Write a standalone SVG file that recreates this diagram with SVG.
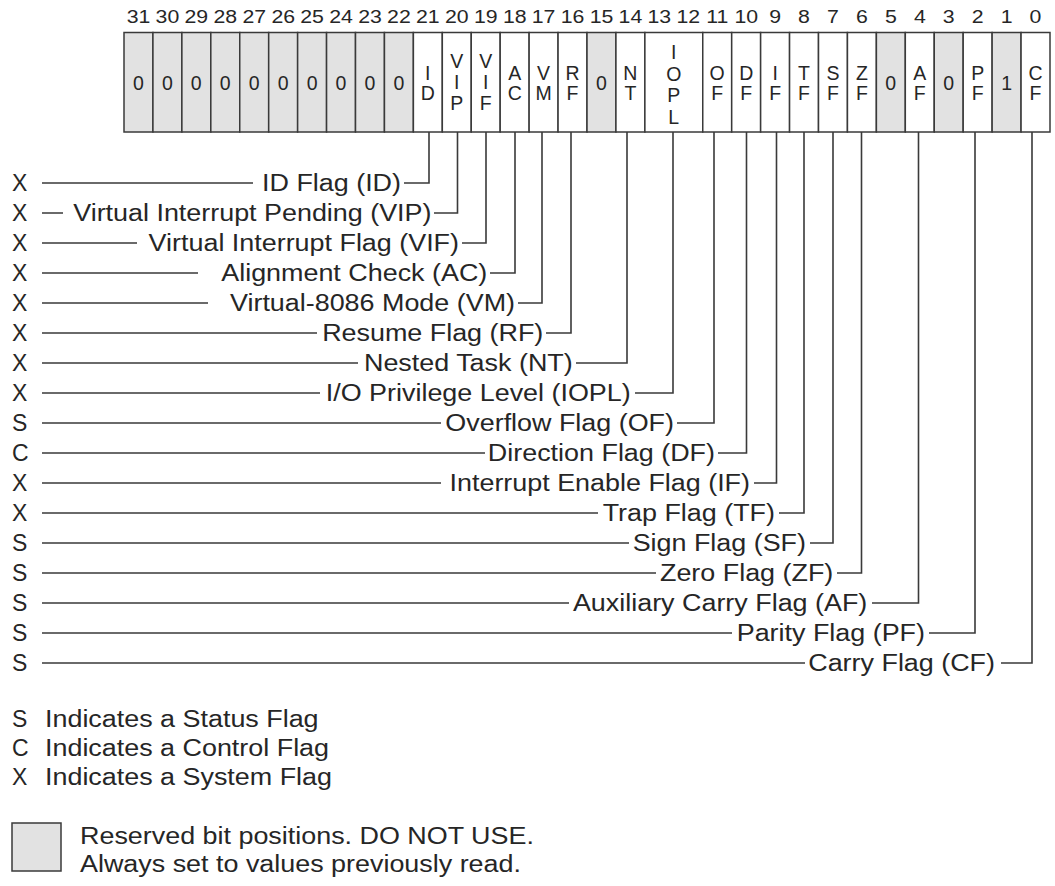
<svg xmlns="http://www.w3.org/2000/svg" width="1055" height="886" viewBox="0 0 1055 886">
<style>
text{font-family:"Liberation Sans",Arial,sans-serif;fill:#262626}
.num{font-size:19px;text-anchor:middle}
.cl{font-size:19.5px;text-anchor:middle}
.lb{font-size:23px;text-anchor:end}
.lt{font-size:23px;text-anchor:start}
.res{fill:#e2e2e2;stroke:#3a3a3a;stroke-width:1.5}
.flg{fill:#ffffff;stroke:#3a3a3a;stroke-width:1.5}
.cn{fill:none;stroke:#3a3a3a;stroke-width:1.6}
</style>
<rect width="1055" height="886" fill="#ffffff"/>
<g id="bitnumbers">
<text class="num" transform="translate(138.5,23) scale(1.12,1)">31</text><text class="num" transform="translate(167.4,23) scale(1.12,1)">30</text><text class="num" transform="translate(196.3,23) scale(1.12,1)">29</text><text class="num" transform="translate(225.3,23) scale(1.12,1)">28</text><text class="num" transform="translate(254.2,23) scale(1.12,1)">27</text><text class="num" transform="translate(283.2,23) scale(1.12,1)">26</text><text class="num" transform="translate(312.1,23) scale(1.12,1)">25</text><text class="num" transform="translate(341,23) scale(1.12,1)">24</text><text class="num" transform="translate(370,23) scale(1.12,1)">23</text><text class="num" transform="translate(398.9,23) scale(1.12,1)">22</text><text class="num" transform="translate(427.8,23) scale(1.12,1)">21</text><text class="num" transform="translate(456.8,23) scale(1.12,1)">20</text><text class="num" transform="translate(485.7,23) scale(1.12,1)">19</text><text class="num" transform="translate(514.7,23) scale(1.12,1)">18</text><text class="num" transform="translate(543.6,23) scale(1.12,1)">17</text><text class="num" transform="translate(572.5,23) scale(1.12,1)">16</text><text class="num" transform="translate(601.5,23) scale(1.12,1)">15</text><text class="num" transform="translate(630.4,23) scale(1.12,1)">14</text><text class="num" transform="translate(659.3,23) scale(1.12,1)">13</text><text class="num" transform="translate(688.3,23) scale(1.12,1)">12</text><text class="num" transform="translate(717.2,23) scale(1.12,1)">11</text><text class="num" transform="translate(746.2,23) scale(1.12,1)">10</text><text class="num" transform="translate(775.1,23) scale(1.12,1)">9</text><text class="num" transform="translate(804,23) scale(1.12,1)">8</text><text class="num" transform="translate(833,23) scale(1.12,1)">7</text><text class="num" transform="translate(861.9,23) scale(1.12,1)">6</text><text class="num" transform="translate(890.8,23) scale(1.12,1)">5</text><text class="num" transform="translate(919.8,23) scale(1.12,1)">4</text><text class="num" transform="translate(948.7,23) scale(1.12,1)">3</text><text class="num" transform="translate(977.7,23) scale(1.12,1)">2</text><text class="num" transform="translate(1006.6,23) scale(1.12,1)">1</text><text class="num" transform="translate(1035.5,23) scale(1.12,1)">0</text>
</g>
<g id="register">
<g id="bit31"><rect class="res" x="124" y="32.5" width="28.94" height="99.5"/><text class="cl" x="138.5" y="90">0</text></g>
<g id="bit30"><rect class="res" x="152.94" y="32.5" width="28.94" height="99.5"/><text class="cl" x="167.4" y="90">0</text></g>
<g id="bit29"><rect class="res" x="181.88" y="32.5" width="28.94" height="99.5"/><text class="cl" x="196.3" y="90">0</text></g>
<g id="bit28"><rect class="res" x="210.81" y="32.5" width="28.94" height="99.5"/><text class="cl" x="225.3" y="90">0</text></g>
<g id="bit27"><rect class="res" x="239.75" y="32.5" width="28.94" height="99.5"/><text class="cl" x="254.2" y="90">0</text></g>
<g id="bit26"><rect class="res" x="268.69" y="32.5" width="28.94" height="99.5"/><text class="cl" x="283.2" y="90">0</text></g>
<g id="bit25"><rect class="res" x="297.63" y="32.5" width="28.94" height="99.5"/><text class="cl" x="312.1" y="90">0</text></g>
<g id="bit24"><rect class="res" x="326.56" y="32.5" width="28.94" height="99.5"/><text class="cl" x="341" y="90">0</text></g>
<g id="bit23"><rect class="res" x="355.5" y="32.5" width="28.94" height="99.5"/><text class="cl" x="370" y="90">0</text></g>
<g id="bit22"><rect class="res" x="384.44" y="32.5" width="28.94" height="99.5"/><text class="cl" x="398.9" y="90">0</text></g>
<g id="bit21-ID"><rect class="flg" x="413.38" y="32.5" width="28.94" height="99.5"/><text class="cl" x="427.8" y="79.5">I</text><text class="cl" x="427.8" y="99.5">D</text></g>
<g id="bit20-VIP"><rect class="flg" x="442.31" y="32.5" width="28.94" height="99.5"/><text class="cl" x="456.8" y="68">V</text><text class="cl" x="456.8" y="89">I</text><text class="cl" x="456.8" y="110">P</text></g>
<g id="bit19-VIF"><rect class="flg" x="471.25" y="32.5" width="28.94" height="99.5"/><text class="cl" x="485.7" y="68">V</text><text class="cl" x="485.7" y="89">I</text><text class="cl" x="485.7" y="110">F</text></g>
<g id="bit18-AC"><rect class="flg" x="500.19" y="32.5" width="28.94" height="99.5"/><text class="cl" x="514.7" y="79.5">A</text><text class="cl" x="514.7" y="99.5">C</text></g>
<g id="bit17-VM"><rect class="flg" x="529.13" y="32.5" width="28.94" height="99.5"/><text class="cl" x="543.6" y="79.5">V</text><text class="cl" x="543.6" y="99.5">M</text></g>
<g id="bit16-RF"><rect class="flg" x="558.06" y="32.5" width="28.94" height="99.5"/><text class="cl" x="572.5" y="79.5">R</text><text class="cl" x="572.5" y="99.5">F</text></g>
<g id="bit15"><rect class="res" x="587" y="32.5" width="28.94" height="99.5"/><text class="cl" x="601.5" y="90">0</text></g>
<g id="bit14-NT"><rect class="flg" x="615.94" y="32.5" width="28.94" height="99.5"/><text class="cl" x="630.4" y="79.5">N</text><text class="cl" x="630.4" y="99.5">T</text></g>
<g id="bit13-12-IOPL"><rect class="flg" x="644.88" y="32.5" width="57.87" height="99.5"/><text class="cl" x="673.8" y="58.5">I</text><text class="cl" x="673.8" y="80.5">O</text><text class="cl" x="673.8" y="102">P</text><text class="cl" x="673.8" y="123.5">L</text></g>
<g id="bit11-OF"><rect class="flg" x="702.75" y="32.5" width="28.94" height="99.5"/><text class="cl" x="717.2" y="79.5">O</text><text class="cl" x="717.2" y="99.5">F</text></g>
<g id="bit10-DF"><rect class="flg" x="731.69" y="32.5" width="28.94" height="99.5"/><text class="cl" x="746.2" y="79.5">D</text><text class="cl" x="746.2" y="99.5">F</text></g>
<g id="bit9-IF"><rect class="flg" x="760.63" y="32.5" width="28.94" height="99.5"/><text class="cl" x="775.1" y="79.5">I</text><text class="cl" x="775.1" y="99.5">F</text></g>
<g id="bit8-TF"><rect class="flg" x="789.56" y="32.5" width="28.94" height="99.5"/><text class="cl" x="804" y="79.5">T</text><text class="cl" x="804" y="99.5">F</text></g>
<g id="bit7-SF"><rect class="flg" x="818.5" y="32.5" width="28.94" height="99.5"/><text class="cl" x="833" y="79.5">S</text><text class="cl" x="833" y="99.5">F</text></g>
<g id="bit6-ZF"><rect class="flg" x="847.44" y="32.5" width="28.94" height="99.5"/><text class="cl" x="861.9" y="79.5">Z</text><text class="cl" x="861.9" y="99.5">F</text></g>
<g id="bit5"><rect class="res" x="876.38" y="32.5" width="28.94" height="99.5"/><text class="cl" x="890.8" y="90">0</text></g>
<g id="bit4-AF"><rect class="flg" x="905.31" y="32.5" width="28.94" height="99.5"/><text class="cl" x="919.8" y="79.5">A</text><text class="cl" x="919.8" y="99.5">F</text></g>
<g id="bit3"><rect class="res" x="934.25" y="32.5" width="28.94" height="99.5"/><text class="cl" x="948.7" y="90">0</text></g>
<g id="bit2-PF"><rect class="flg" x="963.19" y="32.5" width="28.94" height="99.5"/><text class="cl" x="977.7" y="79.5">P</text><text class="cl" x="977.7" y="99.5">F</text></g>
<g id="bit1"><rect class="res" x="992.13" y="32.5" width="28.94" height="99.5"/><text class="cl" x="1006.6" y="90">1</text></g>
<g id="bit0-CF"><rect class="flg" x="1021.06" y="32.5" width="28.94" height="99.5"/><text class="cl" x="1035.5" y="79.5">C</text><text class="cl" x="1035.5" y="99.5">F</text></g>
</g>
<g id="connectors">
<path class="cn" d="M42 183H253M404 183H429V132"/>
<path class="cn" d="M42 213H63M434 213H457.5V132"/>
<path class="cn" d="M42 243H137M462 243H486V132"/>
<path class="cn" d="M42 273H198M490 273H515V132"/>
<path class="cn" d="M42 303H208M518 303H542V132"/>
<path class="cn" d="M42 333H317M546 333H571V132"/>
<path class="cn" d="M42 363H358M576 363H627V132"/>
<path class="cn" d="M42 393H320M635 393H673V132"/>
<path class="cn" d="M42 423H441M677 423H714V132"/>
<path class="cn" d="M42 453H485M718 453H746.5V132"/>
<path class="cn" d="M42 483H441M754 483H776.5V132"/>
<path class="cn" d="M42 513H598M779 513H804V132"/>
<path class="cn" d="M42 543H629M810 543H833V132"/>
<path class="cn" d="M42 573H656M837 573H861.5V132"/>
<path class="cn" d="M42 603H569M872 603H918.5V132"/>
<path class="cn" d="M42 633H732M929 633H975V132"/>
<path class="cn" d="M42 663H805M1001 663H1032V132"/>
</g>
<g id="flag-labels">
<g id="lbl-ID"><text class="lt" x="12" y="191">X</text><text class="lb" transform="translate(401,191) scale(1.17,1)">ID Flag (ID)</text></g>
<g id="lbl-VIP"><text class="lt" x="12" y="221">X</text><text class="lb" transform="translate(431.5,221) scale(1.17,1)">Virtual Interrupt Pending (VIP)</text></g>
<g id="lbl-VIF"><text class="lt" x="12" y="251">X</text><text class="lb" transform="translate(459,251) scale(1.17,1)">Virtual Interrupt Flag (VIF)</text></g>
<g id="lbl-AC"><text class="lt" x="12" y="281">X</text><text class="lb" transform="translate(487.3,281) scale(1.17,1)">Alignment Check (AC)</text></g>
<g id="lbl-VM"><text class="lt" x="12" y="311">X</text><text class="lb" transform="translate(515,311) scale(1.17,1)">Virtual-8086 Mode (VM)</text></g>
<g id="lbl-RF"><text class="lt" x="12" y="341">X</text><text class="lb" transform="translate(543.3,341) scale(1.17,1)">Resume Flag (RF)</text></g>
<g id="lbl-NT"><text class="lt" x="12" y="371">X</text><text class="lb" transform="translate(572.7,371) scale(1.17,1)">Nested Task (NT)</text></g>
<g id="lbl-IOPL"><text class="lt" x="12" y="401">X</text><text class="lb" transform="translate(630.7,401) scale(1.17,1)">I/O Privilege Level (IOPL)</text></g>
<g id="lbl-OF"><text class="lt" x="12" y="431">S</text><text class="lb" transform="translate(674,431) scale(1.17,1)">Overflow Flag (OF)</text></g>
<g id="lbl-DF"><text class="lt" x="12" y="461">C</text><text class="lb" transform="translate(715,461) scale(1.17,1)">Direction Flag (DF)</text></g>
<g id="lbl-IF"><text class="lt" x="12" y="491">X</text><text class="lb" transform="translate(750,491) scale(1.17,1)">Interrupt Enable Flag (IF)</text></g>
<g id="lbl-TF"><text class="lt" x="12" y="521">X</text><text class="lb" transform="translate(775,521) scale(1.17,1)">Trap Flag (TF)</text></g>
<g id="lbl-SF"><text class="lt" x="12" y="551">S</text><text class="lb" transform="translate(806,551) scale(1.17,1)">Sign Flag (SF)</text></g>
<g id="lbl-ZF"><text class="lt" x="12" y="581">S</text><text class="lb" transform="translate(833.3,581) scale(1.17,1)">Zero Flag (ZF)</text></g>
<g id="lbl-AF"><text class="lt" x="12" y="611">S</text><text class="lb" transform="translate(867.3,611) scale(1.17,1)">Auxiliary Carry Flag (AF)</text></g>
<g id="lbl-PF"><text class="lt" x="12" y="641">S</text><text class="lb" transform="translate(925,641) scale(1.17,1)">Parity Flag (PF)</text></g>
<g id="lbl-CF"><text class="lt" x="12" y="671">S</text><text class="lb" transform="translate(995,671) scale(1.17,1)">Carry Flag (CF)</text></g>
</g>
<g id="legend">
<text class="lt" x="12" y="726.5">S</text><text class="lt" transform="translate(45,726.5) scale(1.17,1)">Indicates a Status Flag</text>
<text class="lt" x="12" y="755.5">C</text><text class="lt" transform="translate(45,755.5) scale(1.17,1)">Indicates a Control Flag</text>
<text class="lt" x="12" y="784.5">X</text><text class="lt" transform="translate(45,784.5) scale(1.17,1)">Indicates a System Flag</text>
<rect x="12" y="823" width="49" height="48" fill="#e2e2e2" stroke="#3a3a3a" stroke-width="1.5"/>
<text class="lt" transform="translate(80,843.5) scale(1.17,1)">Reserved bit positions. DO NOT USE.</text>
<text class="lt" transform="translate(80,872) scale(1.17,1)">Always set to values previously read.</text>
</g>
</svg>
